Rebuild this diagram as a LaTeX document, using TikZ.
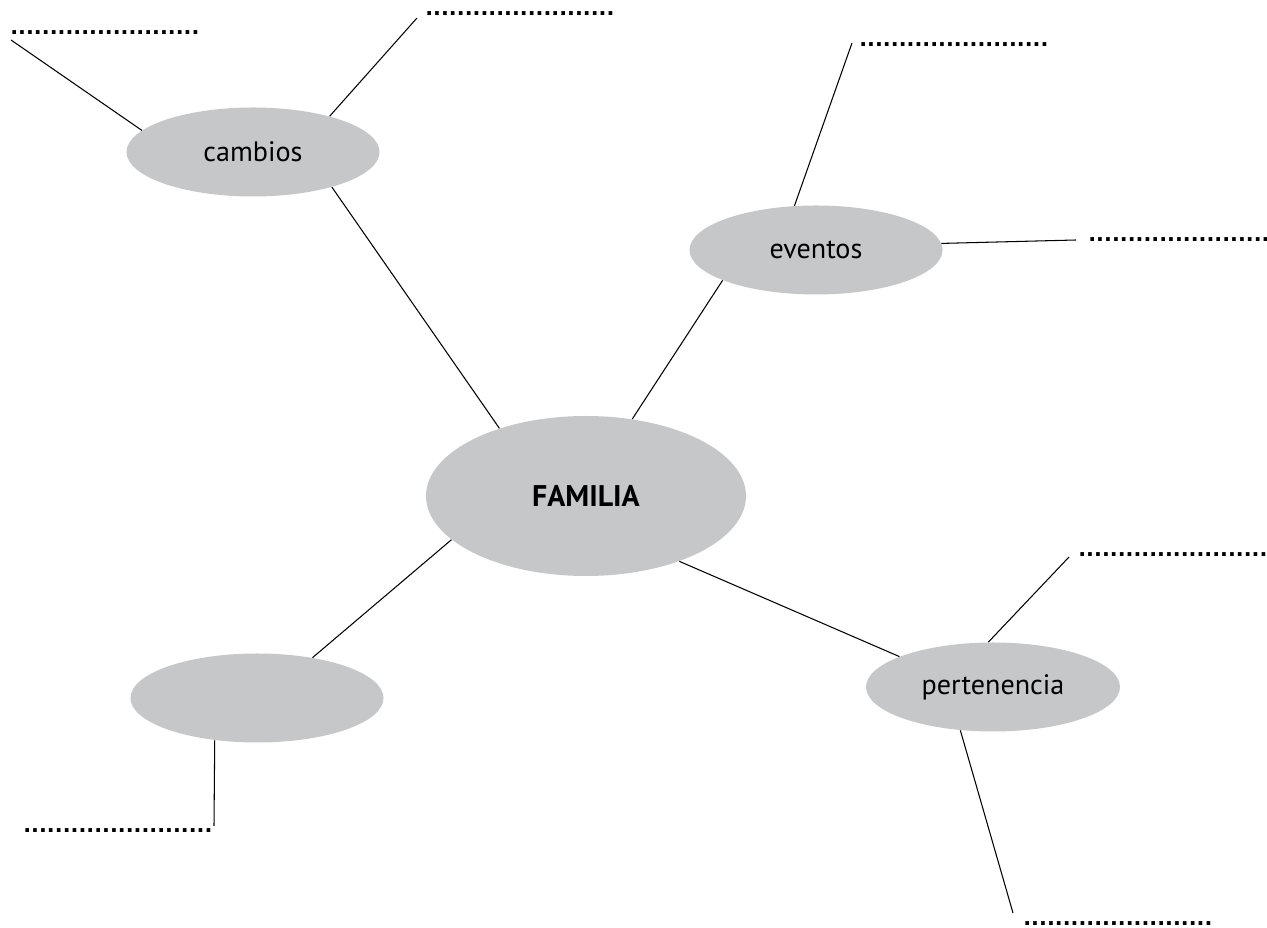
\documentclass[tikz,border=0pt]{standalone}
\usepackage{fontspec}
\setmainfont{PT Sans}
\newfontfamily\dotfont{DejaVu Sans}
\usetikzlibrary{shapes.geometric}
\definecolor{ovalgray}{RGB}{198,199,201}
\tikzset{
  oval/.style={ellipse, fill=ovalgray, inner sep=0pt, minimum width=5.06cm, minimum height=1.78cm, font=\fontsize{16}{19}\selectfont},
  blankline/.style={inner sep=0pt, anchor=base west, font=\dotfont\bfseries\fontsize{11.8}{14}\selectfont},
  link/.style={draw=black, line width=0.6pt}
}
\newcommand{\dotrow}{........................}

\begin{document}
\begin{tikzpicture}
\useasboundingbox (0,0) rectangle (25.34,18.56);

\node[oval] (cambios) at (5.06,15.52) {cambios};
\node[oval] (eventos) at (16.32,13.56) {eventos};
\node[oval, minimum width=6.4cm, minimum height=3.2cm, font=\fontsize{17}{20}\selectfont\bfseries] (familia) at (11.72,8.64) {FAMILIA};
\node[oval] (vacio) at (5.14,4.6) {};
\node[oval, minimum width=5.08cm] (pertenencia) at (19.86,4.82) {pertenencia};

\coordinate (c1) at (0.22,17.76);
\coordinate (c2) at (8.34,18.20);
\coordinate (e1) at (17.04,17.70);
\coordinate (e2) at (21.52,13.76);
\coordinate (p1) at (21.38,7.42);
\coordinate (p2) at (20.26,0.30);
\coordinate (v1) at (4.28,2.04);

\node[blankline] (r1) at (0.20,17.86) {\dotrow};
\node[blankline] (r2) at (8.50,18.24) {\dotrow};
\node[blankline] (r3) at (17.18,17.62) {\dotrow};
\node[blankline] (r4) at (21.76,13.72) {\dotrow};
\node[blankline] (r5) at (21.56,7.42) {\dotrow};
\node[blankline] (r6) at (20.46,0.04) {\dotrow};
\node[blankline] (r7) at (0.46,1.90) {\dotrow};

\draw[link] (familia.142) -- (cambios.336);
\draw[link] (familia.59) -- (eventos.198);
\draw[link] (familia.198) -- (vacio.36);
\draw[link] (familia.325) -- (pertenencia.162);

\draw[link] (cambios.169) -- (c1);
\draw[link] (cambios.25) -- (c2);
\draw[link] (eventos.116) -- (e1);
\draw[link] (eventos.3) -- (e2);
\draw[link] (pertenencia.96) -- (p1);
\draw[link] (pertenencia.233) -- (p2);
\draw[link] (vacio.225) -- (v1);

\end{tikzpicture}
\end{document}
